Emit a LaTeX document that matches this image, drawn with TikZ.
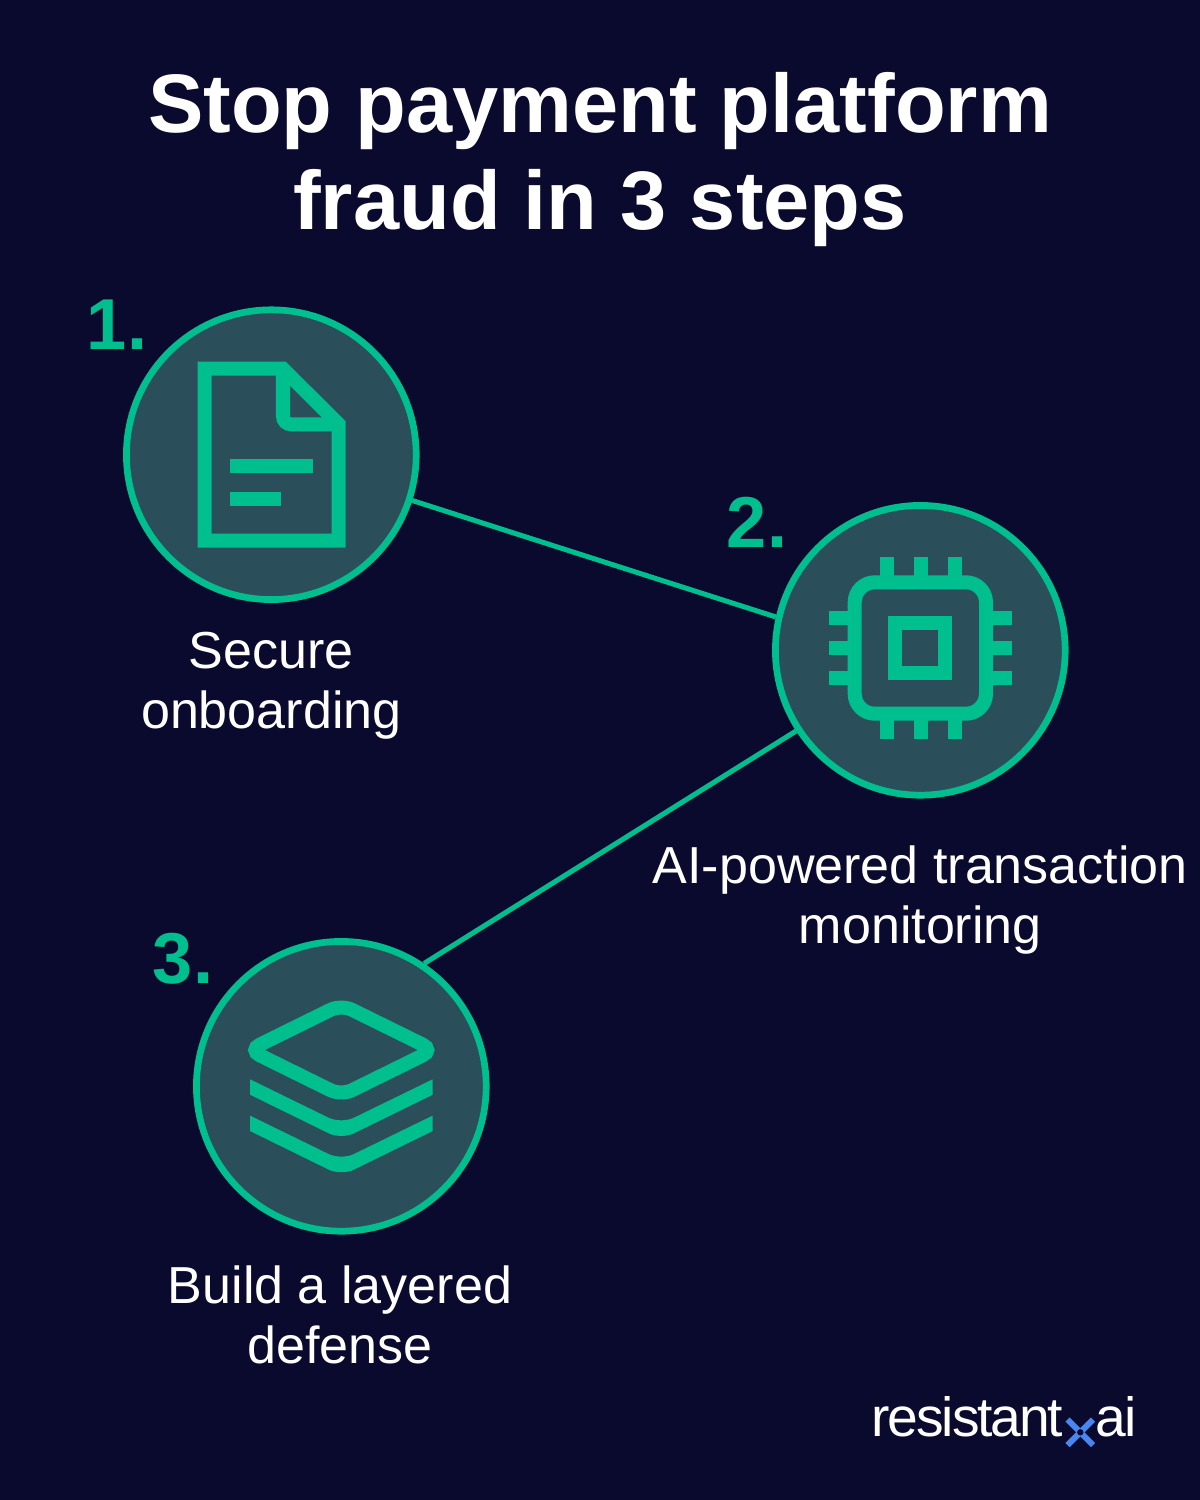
\documentclass[tikz,border=0pt]{standalone}
\usepackage{fontspec}
\setmainfont{Liberation Sans}
\newfontfamily\logofont[LetterSpace=-3.8]{Liberation Sans}
\definecolor{bgnavy}{HTML}{0A0A2E}
\definecolor{stepgreen}{HTML}{00BF8F}
\definecolor{stepfill}{HTML}{2B4F5A}
\definecolor{logoblue}{HTML}{4A86F0}
\tikzset{
  stepcircle/.style={circle, draw=stepgreen, fill=stepfill, line width=.067cm, minimum size=2.896cm},
  stepnum/.style={text=stepgreen, font=\bfseries\fontsize{20.5}{24}\selectfont, anchor=base, inner sep=0pt},
  steptext/.style={text=white, align=center, font=\fontsize{14.8}{17.07}\selectfont, inner sep=0pt},
  link/.style={stepgreen, line width=.05cm},
  icon/.style={stepgreen, line width=.14cm},
}
\begin{document}
\begin{tikzpicture}[x=.01cm, y=-.01cm]
  \useasboundingbox (0,0) rectangle (1200,1500);
  \fill[bgnavy] (0,0) rectangle (1200,1500);
  \node[text=white, align=center, inner sep=0pt, font=\bfseries\fontsize{23.6}{27.6}\selectfont] (title) at (600,160) {Stop payment platform\\fraud in 3 steps};

  % circles and links
  \node[stepcircle] (stepa) at (271.3,454.7) {};
  \node[stepcircle] (stepb) at (920.3,650.3) {};
  \node[stepcircle] (stepc) at (341.3,1086.3) {};
  \draw[link] (stepa.-18.3) -- (stepb.167);
  \draw[link] (stepb.213.6) -- (stepc.56.3);

  \node[stepnum] (numa) at (117,349) {1.};
  \node[stepnum] (numb) at (757,547) {2.};
  \node[stepnum] (numc) at (183,983) {3.};

  \node[steptext] (texta) at (271.3,686) {Secure\\onboarding};
  \node[steptext] (textb) at (920.3,900) {AI-powered transaction\\monitoring};
  \node[steptext] (textc) at (340,1315) {Build a layered\\defense};

  % document
  \draw[icon] (204.7,368.7) -- (283,368.7) -- (338.7,424.3) -- (338.7,540.7) -- (204.7,540.7) -- cycle;
  \draw[icon, rounded corners=.08cm] (283,368.7) -- (283,424.3) -- (338.7,424.3);
  \draw[icon] (230,466.3) -- (313.3,466.3);
  \draw[icon] (230,498.7) -- (281,498.7);

  % chip
  \draw[icon, rounded corners=.2cm] (854.7,582.3) rectangle (986,713.7);
  \draw[icon] (895.3,623) rectangle (945.3,673);
  \foreach \i in {886.7,920.7,954.7} {
    \draw[icon] (\i,557) -- (\i,577);
    \draw[icon] (\i,719) -- (\i,739.3);
  }
  \foreach \i in {618.3,648.3,678} {
    \draw[icon] (829,\i) -- (849,\i);
    \draw[icon] (992,\i) -- (1011.7,\i);
  }

  % layers
  \draw[icon, rounded corners=.12cm] (249,1050) -- (341.3,1004.5) -- (433.6,1050) -- (341.3,1095.5) -- cycle;
  \foreach \i in {0,36.3} {
    \fill[stepgreen] (250,1094.7+\i) [rounded corners=.14cm] -- (341.3,1139.5+\i) [sharp corners] -- (432.7,1094.7+\i) -- (432.7,1079.3+\i) [rounded corners=.14cm] -- (341.3,1123.9+\i) [sharp corners] -- (250,1079.3+\i) -- cycle;
  }

  % logo
  \node[text=white, anchor=base east, inner sep=0pt, font=\logofont\fontsize{15.7}{18}\selectfont] (logoa) at (1064,1436) {resistant};
  \node[text=white, anchor=base west, inner sep=0pt, font=\logofont\fontsize{15.7}{18}\selectfont] (logob) at (1095,1436) {ai};
  \draw[logoblue, line width=.06cm] (1067.5,1419.5) -- (1093,1445);
  \draw[logoblue, line width=.06cm] (1093,1419.5) -- (1067.5,1445);
  \fill[bgnavy] (1080.3,1432.3) circle (3.2);
\end{tikzpicture}
\end{document}
